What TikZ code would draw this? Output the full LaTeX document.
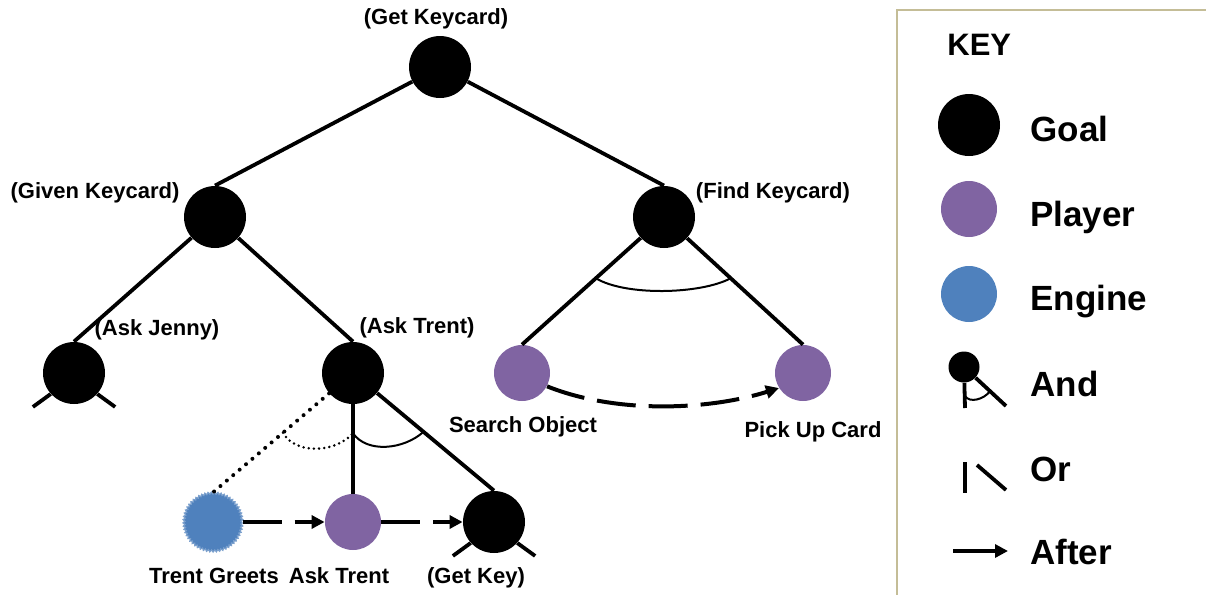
\documentclass[tikz,border=0pt]{standalone}
\usepackage{fontspec}
\setmainfont{Liberation Sans}
\usetikzlibrary{arrows.meta,calc,decorations.pathmorphing}
\definecolor{playerc}{HTML}{8064A2}
\definecolor{enginec}{HTML}{4F81BD}
\definecolor{keyframe}{HTML}{C4BD97}

\begin{document}
\begin{tikzpicture}[x=0.5pt,y=-0.5pt,font=\bfseries]
  %----- styles
  \tikzset{
    goal/.style  ={circle,fill=black,minimum size=31pt,inner sep=0pt},
    player/.style={circle,fill=playerc,minimum size=28pt,inner sep=0pt},
    engine/.style={circle,fill=enginec,minimum size=29pt,inner sep=0pt,draw=enginec!75!white,line width=0.6pt,
                   decorate,decoration={zigzag,segment length=1.6pt,amplitude=0.5pt}},
    lbl/.style   ={font=\fontsize{11}{13}\selectfont\bfseries,inner sep=0pt,text height=8pt,text depth=2.4pt},
    keytxt/.style={font=\fontsize{17.5}{20}\selectfont\bfseries,inner sep=0pt,anchor=base west},
    edge/.style  ={line width=1.9pt},
    orline/.style={line width=2pt,dash pattern=on 0pt off 4.2pt,line cap=round},
    andarc/.style={line width=1pt},
    orarc/.style ={line width=1.4pt,dash pattern=on 0pt off 2.6pt,line cap=round},
    after/.style ={-{Triangle[length=6.5pt,width=6.5pt]},line width=2pt,dash pattern=on 19.5pt off 6.5pt}
  }
  \useasboundingbox (0,0) rectangle (1206,595);

  %----- nodes
  % top goal
  \node[goal] (gkc) at (440,67) {};
  % second level
  \node[goal] (gvk) at (215,217) {};
  \node[goal] (fkc) at (664,217) {};
  % third level
  \node[goal]   (ajn) at (74,373)  {};
  \node[goal]   (atg) at (353,373) {};
  \node[player] (sob) at (522,373) {};
  \node[player] (puc) at (803,373) {};
  % bottom row
  \node[engine] (tgr) at (213,522) {};
  \node[player] (atp) at (353,522) {};
  \node[goal]   (gky) at (494,522) {};

  %----- labels
  \node[lbl] (gkc-l) at (436,19)  {(Get Keycard)};
  \node[lbl] (gvk-l) at (95,193)  {(Given Keycard)};
  \node[lbl] (fkc-l) at (773,193) {(Find Keycard)};
  \node[lbl] (ajn-l) at (157,330) {(Ask Jenny)};
  \node[lbl] (atg-l) at (417,328) {(Ask Trent)};
  \node[lbl] (sob-l) at (523,427) {Search Object};
  \node[lbl] (puc-l) at (813,432) {Pick Up Card};
  \node[lbl] (tgr-l) at (214,578) {Trent Greets};
  \node[lbl] (atp-l) at (339,578) {Ask Trent};
  \node[lbl] (gky-l) at (476,578) {(Get Key)};

  %----- connections
  \draw[edge] (gkc) -- (gvk.north);
  \draw[edge] (gkc) -- (fkc.north);
  \draw[edge] (gvk) -- (ajn.north);
  \draw[edge] (gvk) -- (atg.north);
  \draw[edge] (fkc) -- (sob.north);
  \draw[edge] (fkc) -- (puc.north);
  \draw[orline] (atg) -- (tgr.north);
  \draw[edge] (atg) -- (atp.north);
  \draw[edge] (atg) -- (gky.north);

  % open ends below the goals not expanded
  \draw[edge] (ajn.-138) -- ++(-144:11pt) coordinate (ajn-sl);
  \draw[edge] (ajn.-42)  -- ++(-36:11pt)  coordinate (ajn-sr);
  \draw[edge] (gky.-138) -- ++(-144:11pt) coordinate (gky-sl);
  \draw[edge] (gky.-42)  -- ++(-36:11pt)  coordinate (gky-sr);

  % and / or arcs
  \coordinate (fkc-a1) at ($(fkc)!0.48!(sob.north)$);
  \coordinate (fkc-a2) at ($(fkc)!0.48!(puc.north)$);
  \draw[andarc] (fkc-a1) .. controls +(30,18) and +(-30,16) .. (fkc-a2);
  \coordinate (atg-a1) at ($(atg)!0.5!(tgr.north)$);
  \coordinate (atg-a2) at ($(atg)!0.5!(atp.north)$);
  \coordinate (atg-a3) at ($(atg)!0.5!(gky.north)$);
  \draw[orarc] (atg-a1) .. controls +(12,22) and +(-18,20) .. (atg-a2);
  \draw[andarc] (atg-a2) .. controls +(14,20) and +(-20,18) .. (atg-a3);

  % after arrows
  \draw[after] (tgr) -- (atp);
  \draw[after] (atp) -- (gky);
  \draw[after] (sob.-28) .. controls +(70,28) and +(-70,22) .. (puc.-148);

  %----- key
  \draw[keyframe,line width=1pt] (1206,10) -- (897,10) -- (897,595);
  \node[keytxt,font=\fontsize{15.5}{18}\selectfont\bfseries] (k-t) at (947,55) {KEY};
  \node[goal] (k-goal) at (969,125) {};
  \node[player] (k-player) at (969,209) {};
  \node[player,fill=enginec] (k-engine) at (969,294) {};
  \node[goal,minimum size=15.5pt] (k-and) at (964,367) {};
  \coordinate (k-and-v) at (965,408);
  \coordinate (k-and-d) at (1006,406);
  \draw[edge] (k-and) -- (k-and-v);
  \draw[edge] (k-and) -- (k-and-d);
  \coordinate (k-and-a1) at ($(k-and)!0.7!(k-and-v)$);
  \coordinate (k-and-a2) at ($(k-and)!0.62!(k-and-d)$);
  \draw[andarc] (k-and-a1) .. controls +(5,8) and +(-6,8) .. (k-and-a2);
  \coordinate (k-or-v1) at (965,462);
  \coordinate (k-or-v2) at (965,493);
  \coordinate (k-or-d1) at (977,465);
  \coordinate (k-or-d2) at (1006,490);
  \draw[edge] (k-or-v1) -- (k-or-v2);
  \draw[edge] (k-or-d1) -- (k-or-d2);
  \coordinate (k-af1) at (953,551);
  \coordinate (k-af2) at (1008,551);
  \draw[edge,-{Triangle[length=6.5pt,width=6.5pt]}] (k-af1) -- (k-af2);
  \node[keytxt] (k-goal-t)   at (1030,141) {Goal};
  \node[keytxt] (k-player-t) at (1030,226) {Player};
  \node[keytxt] (k-engine-t) at (1030,310) {Engine};
  \node[keytxt] (k-and-t)    at (1030,396) {And};
  \node[keytxt] (k-or-t)     at (1030,481) {Or};
  \node[keytxt] (k-af-t)     at (1030,564) {After};
\end{tikzpicture}
\end{document}
